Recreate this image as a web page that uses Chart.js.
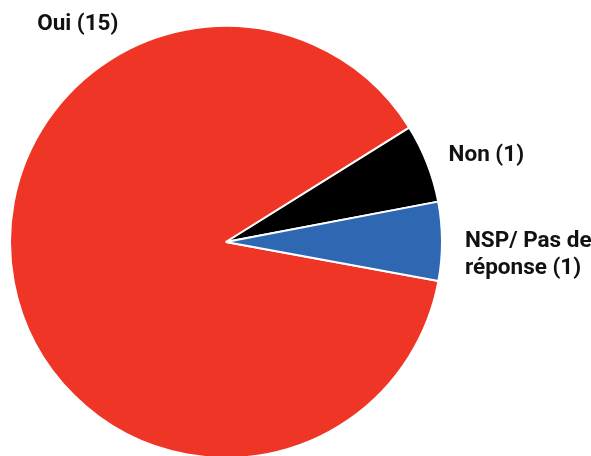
<!DOCTYPE html>
<html>
<head>
<meta charset="utf-8">
<script src="https://cdn.jsdelivr.net/npm/chart.js@4/dist/chart.umd.min.js"></script>
<style>
  html, body { margin: 0; padding: 0; background: #fff; }
  #wrap { width: 591px; height: 456px; overflow: hidden; position: relative; }
</style>
</head>
<body>
<div id="wrap"><canvas id="pie" width="591" height="484"></canvas></div>
<script>
const labels = ['Oui (15)', 'Non (1)', 'NSP/ Pas de\nréponse (1)'];
const counts = [15, 1, 1];
const colors = ['#EE3526', '#000000', '#2E67B2'];

// where to put each label: angle in degrees (null = slice middle), distance past the rim
const labelAngles = [-124.3, null, null];
const labelGap = [47, 23, 23];
const labelAlign = ['center', 'left', 'left'];

const FONT = 'bold 22.5px Roboto, "Liberation Sans", sans-serif';

const outsideLabels = {
  id: 'outsideLabels',
  afterDraw(chart) {
    const ctx = chart.ctx;
    const arcs = chart.getDatasetMeta(0).data;
    ctx.save();
    ctx.font = FONT;
    ctx.fillStyle = '#111';
    ctx.textBaseline = 'middle';
    arcs.forEach((arc, i) => {
      const p = arc.getProps(['x', 'y', 'startAngle', 'endAngle', 'outerRadius'], true);
      const ang = labelAngles[i] !== null ? labelAngles[i] * Math.PI / 180 : (p.startAngle + p.endAngle) / 2;
      const r = p.outerRadius + labelGap[i];
      const x = p.x + Math.cos(ang) * r;
      const y = p.y + Math.sin(ang) * r;
      ctx.textAlign = labelAlign[i];
      labels[i].split('\n').forEach((line, j) => {
        ctx.fillText(line, x, y + j * 27);
      });
    });
    ctx.restore();
  }
};

new Chart(document.getElementById('pie'), {
  type: 'pie',
  data: {
    labels: labels,
    datasets: [{
      data: counts,
      backgroundColor: colors,
      borderColor: '#ffffff',
      borderWidth: 2
    }]
  },
  options: {
    responsive: false,
    animation: false,
    rotation: 100.4,
    layout: { padding: { left: 9, right: 148, top: 25, bottom: 25 } },
    plugins: {
      legend: { display: false },
      tooltip: { enabled: false }
    }
  },
  plugins: [outsideLabels]
});
</script>
</body>
</html>
